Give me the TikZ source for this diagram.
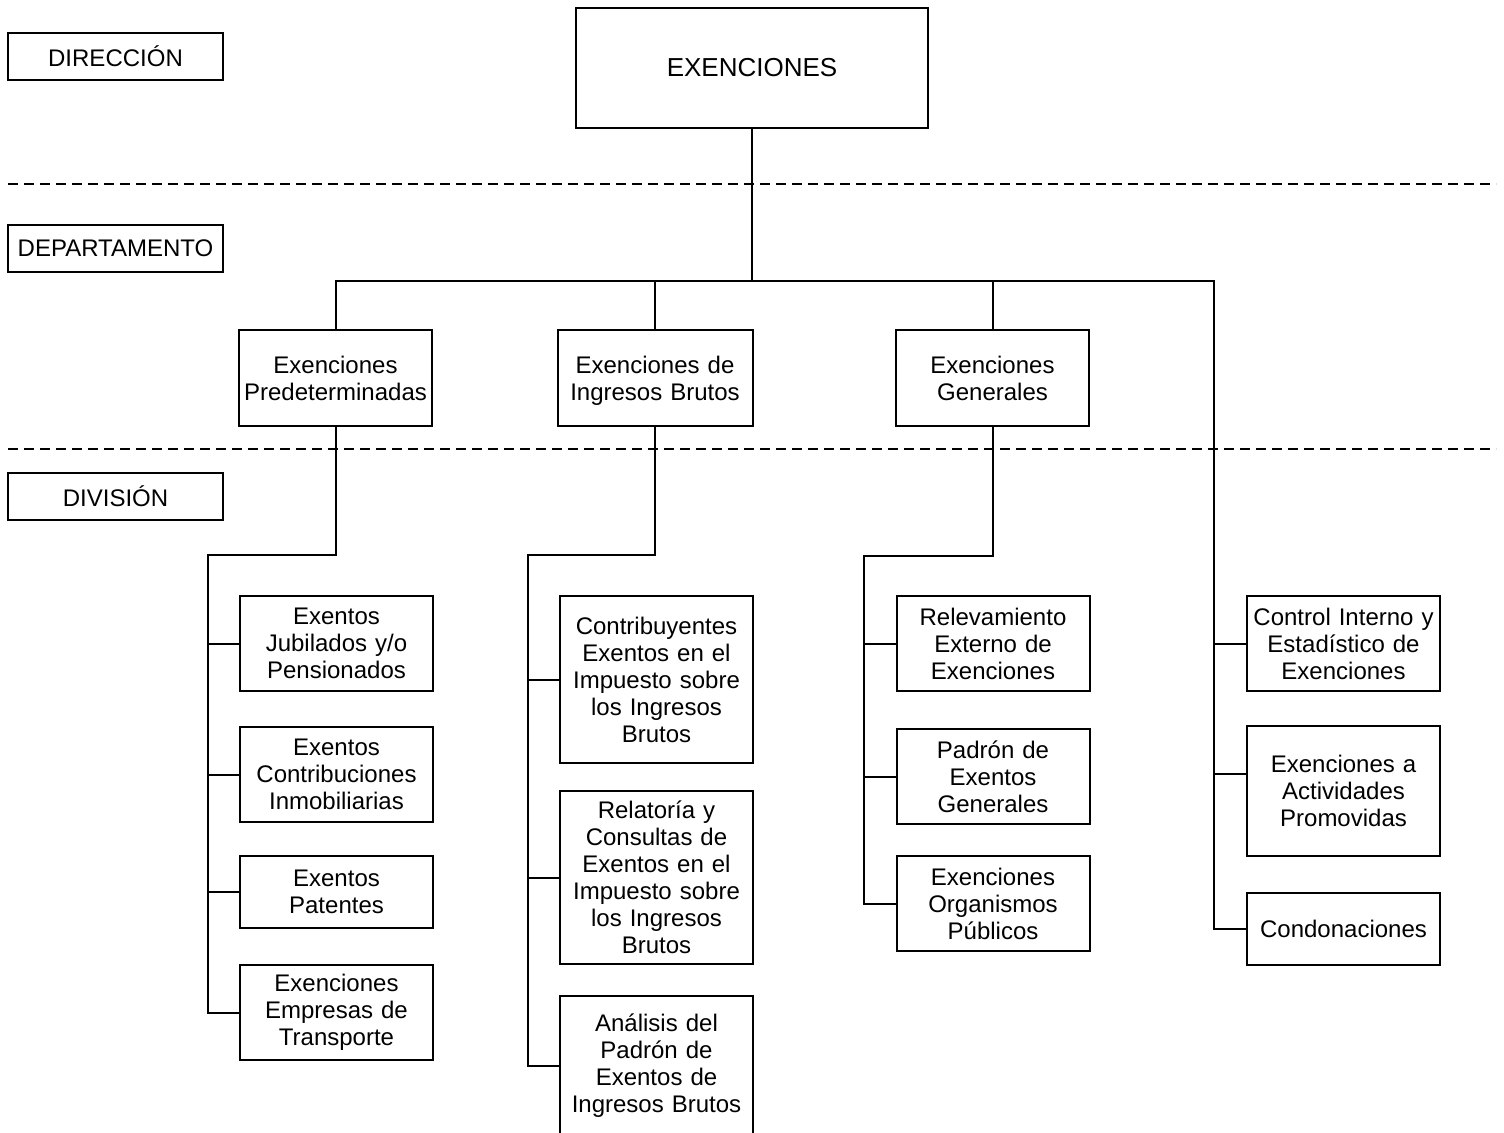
\documentclass[tikz,border=0pt]{standalone}
\usepackage{fontspec}
\setmainfont{Liberation Sans}
\begin{document}
\begin{tikzpicture}[x=0.5pt,y=-0.5pt,line width=1pt,
  caja/.style={draw,align=center,inner sep=0pt,font=\fontsize{12pt}{13.5pt}\selectfont},
  nivel/.style={caja,text width=107.5pt,minimum height=23.5pt},
  hijo/.style={caja,text width=96.5pt,minimum height=47.5pt}]
\useasboundingbox (0,0) rectangle (1504,1133);

% niveles
\node[nivel] (dir) at (115.5,56.5) {DIRECCIÓN};
\node[nivel] (dep) at (115.5,248.5) {DEPARTAMENTO};
\node[nivel] (div) at (115.5,496.5) {DIVISIÓN};
\draw[dash pattern=on 5pt off 3pt] (8,184) -- (1496,184);
\draw[dash pattern=on 5pt off 3pt] (8,449) -- (1496,449);

% direccion y departamentos
\node[caja,text width=176pt,minimum height=60pt,font=\fontsize{13pt}{15pt}\selectfont] (root) at (752,68) {EXENCIONES};
\node[hijo,minimum height=48pt] (pre) at (335.5,378) {Exenciones\\Predeterminadas};
\node[hijo,text width=97.5pt,minimum height=48pt,text depth=13.5pt] (ib) at (655,378) {Exenciones de\\Ingresos Brutos};
\node[hijo,minimum height=48pt] (gen) at (992.5,378) {Exenciones\\Generales};

% divisiones
\node[hijo] (jub) at (336.5,643.5) {Exentos\\Jubilados y/o\\Pensionados};
\node[hijo] (inm) at (336.5,774.5) {Exentos\\Contribuciones\\Inmobiliarias};
\node[hijo,minimum height=36pt] (pat) at (336.5,892) {Exentos\\Patentes};
\node[hijo] (tra) at (336.5,1012.5) {Exenciones\\Empresas de\\Transporte};

\node[hijo,minimum height=83.5pt] (con) at (656.5,679.5) {Contribuyentes\\Exentos en el\\Impuesto sobre\\los Ingresos\\Brutos};
\node[hijo,minimum height=86.5pt] (rel) at (656.5,877.5) {Relatoría y\\Consultas de\\Exentos en el\\Impuesto sobre\\los Ingresos\\Brutos};
\node[hijo,minimum height=70pt] (ana) at (656.5,1066) {Análisis del\\Padrón de\\Exentos de\\Ingresos Brutos};

\node[hijo] (rev) at (993,643.5) {Relevamiento\\Externo de\\Exenciones};
\node[hijo] (pad) at (993,776.5) {Padrón de\\Exentos\\Generales};
\node[hijo] (org) at (993,903.5) {Exenciones\\Organismos\\Públicos};

\node[hijo] (ctl) at (1343.5,643.5) {Control Interno y\\Estadístico de\\Exenciones};
\node[hijo,minimum height=65pt] (act) at (1343.5,791) {Exenciones a\\Actividades\\Promovidas};
\node[hijo,minimum height=36pt] (cnd) at (1343.5,929) {Condonaciones};

% conectores de arriba
\coordinate (busL) at (336,281);
\coordinate (busR) at (1214,281);
\draw (root.south) -- (root.south |- busL);
\draw (pre.north) -- (pre.north |- busL) -- (busR) -- (busR |- cnd.west) -- (cnd.west);
\draw (ib.north) -- (ib.north |- busL);
\draw (gen.north) -- (gen.north |- busL);

% rama 1
\coordinate (s1) at (208,555);
\draw (pre.south) -- (pre.south |- s1) -- (s1) -- (s1 |- tra.west) -- (tra.west);
\draw (s1 |- jub.west) -- (jub.west);
\draw (s1 |- inm.west) -- (inm.west);
\draw (s1 |- pat.west) -- (pat.west);

% rama 2
\coordinate (s2) at (528,555);
\draw (ib.south) -- (ib.south |- s2) -- (s2) -- (s2 |- ana.west) -- (ana.west);
\draw (s2 |- con.west) -- (con.west);
\draw (s2 |- rel.west) -- (rel.west);

% rama 3
\coordinate (s3) at (864,556);
\draw (gen.south) -- (gen.south |- s3) -- (s3) -- (s3 |- org.west) -- (org.west);
\draw (s3 |- rev.west) -- (rev.west);
\draw (s3 |- pad.west) -- (pad.west);

% rama 4
\coordinate (a4) at ([yshift=8.5pt]act.west); % el conector no va al centro
\draw (busR |- ctl.west) -- (ctl.west);
\draw (busR |- a4) -- (a4);

\end{tikzpicture}
\end{document}
